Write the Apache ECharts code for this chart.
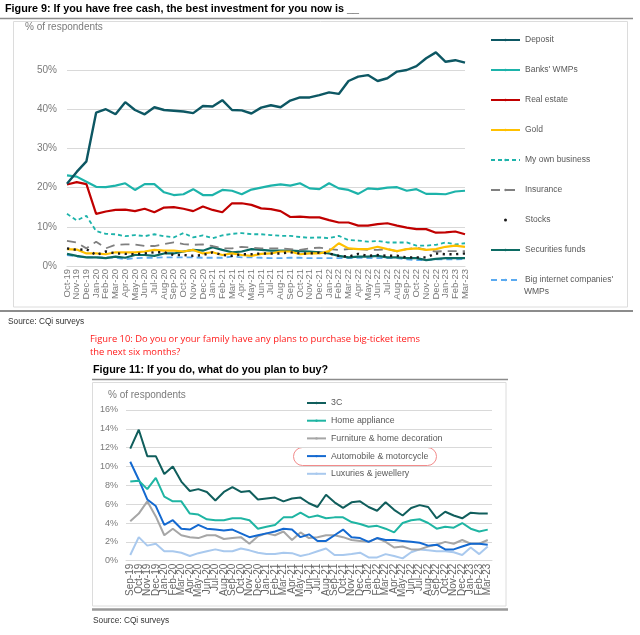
<!DOCTYPE html>
<html><head><meta charset="utf-8">
<script src="https://cdn.jsdelivr.net/npm/echarts@6/dist/echarts.min.js"></script>
<style>html,body{margin:0;padding:0;background:#fff}#c{width:640px;height:635px}</style>
</head><body><div id="c"></div>
<script>
// ---------- Figure 9 data ----------
const months1 = ['Oct-19','Nov-19','Dec-19','Jan-20','Feb-20','Mar-20','Apr-20','May-20','Jun-20','Jul-20','Aug-20','Sep-20','Oct-20','Nov-20','Dec-20','Jan-21','Feb-21','Mar-21','Apr-21','May-21','Jun-21','Jul-21','Aug-21','Sep-21','Oct-21','Nov-21','Dec-21','Jan-22','Feb-22','Mar-22','Apr-22','May-22','Jun-22','Jul-22','Aug-22','Sep-22','Oct-22','Nov-22','Dec-22','Jan-23','Feb-23','Mar-23'];
const deposit = [21.0,24.0,26.7,39.1,40.0,38.7,41.8,39.8,38.7,40.5,39.8,39.6,39.4,39.0,40.8,40.7,42.3,39.8,39.7,38.9,40.4,41.0,40.5,42.2,43.0,43.0,43.6,44.3,43.9,47.2,48.3,48.7,47.2,47.9,49.6,50.0,51.0,53.0,54.5,52.1,52.5,51.9];
const banksWMPs = [23.1,22.8,21.5,20.2,20.1,20.5,21.1,19.4,20.9,20.9,18.8,18.1,18.3,19.6,18.1,18.1,19.4,19.2,18.3,19.5,20.0,20.5,20.8,20.5,21.1,19.8,19.6,21.1,19.8,19.4,18.4,19.8,19.6,20.0,20.1,19.2,19.6,18.4,18.4,18.3,19.0,19.2];
const realEstate = [20.8,21.4,20.9,13.3,13.9,14.3,14.4,14.0,14.6,13.7,14.9,15.0,14.6,14.0,15.2,14.3,13.7,16.0,16.0,15.6,14.7,14.5,14.0,12.5,12.6,12.4,12.4,11.7,11.1,11.1,10.3,10.3,10.7,10.9,10.3,9.8,9.4,9.4,8.5,8.6,8.8,8.1];
const gold = [4.3,4.2,3.2,3.2,3.0,3.5,3.5,3.5,3.7,4.1,3.9,3.9,3.7,4.1,3.2,3.5,2.8,3.2,2.8,2.6,3.1,3.2,3.7,3.7,3.0,3.2,3.2,3.8,5.8,4.5,4.3,4.3,4.9,4.3,3.8,4.3,4.5,4.1,4.3,4.9,5.2,4.9];
const ownBusiness = [13.3,11.6,12.8,8.9,8.2,8.1,7.6,7.9,7.6,8.1,7.6,7.3,8.4,7.3,7.8,7.1,7.8,8.2,8.4,8.1,8.1,7.9,7.7,7.7,7.4,7.2,7.3,7.1,7.7,6.6,6.5,6.2,6.4,6.0,6.0,6.0,5.2,5.2,5.4,6.0,5.5,5.8];
const insurance = [6.4,6.0,4.5,6.2,4.5,5.4,5.5,5.5,5.1,5.1,5.6,6.0,5.6,5.4,5.5,5.1,4.5,4.5,4.9,4.7,4.5,4.5,4.5,4.3,4.1,4.5,4.7,4.3,4.1,4.3,4.3,4.1,4.1,4.3,3.7,4.3,4.7,4.1,3.7,3.8,3.8,3.8];
const stocks = [4.5,4.1,4.3,2.8,3.7,3.2,3.1,3.0,3.2,3.5,3.5,2.8,2.8,2.6,2.8,3.5,2.8,2.6,3.0,3.0,3.2,3.2,3.2,3.5,3.2,3.2,3.4,3.2,2.6,2.4,3.1,2.6,2.8,2.6,2.6,2.2,2.2,2.2,3.2,3.0,3.0,3.2];
const securitiesFunds = [3.1,2.6,2.2,2.2,2.0,2.4,2.1,2.8,2.8,2.6,3.2,3.2,3.7,4.1,3.9,4.8,4.1,3.5,3.7,4.3,4.1,3.9,3.9,3.9,3.8,3.7,3.5,3.2,2.6,2.2,2.4,2.4,2.6,2.2,2.2,2.0,2.0,1.5,1.8,2.0,2.0,2.0];
const bigInternetWMPs = [2.8,2.4,2.2,2.2,2.2,2.1,1.7,2.0,2.1,2.1,2.2,2.2,2.2,2.2,2.1,2.1,2.1,2.4,2.2,2.2,2.1,2.0,2.0,2.1,2.1,2.0,2.0,2.0,2.0,2.0,2.1,2.0,2.0,2.0,2.0,1.7,1.5,1.5,1.7,1.7,1.7,1.8];
const yTicks1 = ['0%','10%','20%','30%','40%','50%'];

// ---------- Figure 11 data ----------
const months2 = ['Sep-19'].concat(months1);
const threeC = [11.9,13.9,11.1,11.1,9.2,10.0,8.4,7.4,7.6,7.3,6.4,7.3,7.8,7.3,7.4,6.5,6.6,6.7,6.3,6.6,6.7,6.1,5.7,7.0,6.2,5.6,6.2,6.3,5.7,5.3,6.2,5.4,4.8,5.6,5.9,5.7,4.5,5.2,4.8,4.5,5.1,5.0,5.0];
const homeAppliance = [8.4,8.5,7.6,8.8,6.8,6.3,6.3,5.0,4.9,4.4,4.3,4.3,4.5,4.5,4.3,3.4,3.6,3.8,4.6,4.6,5.1,4.6,4.8,4.5,4.6,4.6,4.1,3.9,3.6,3.7,3.4,3.0,4.0,4.3,4.4,4.0,3.4,3.6,3.5,4.0,3.4,3.1,3.3];
const furniture = [4.2,5.0,6.3,4.7,2.7,3.4,2.7,2.5,2.4,2.7,2.7,2.3,2.4,2.5,1.8,2.6,2.9,2.7,3.1,2.2,3.0,2.4,2.5,2.7,2.7,2.5,2.2,2.1,2.0,2.4,2.0,1.4,1.5,1.2,1.2,1.5,1.7,2.0,1.8,2.2,1.8,1.8,2.2];
const automobile = [10.5,8.6,6.5,5.8,3.8,4.3,3.4,3.3,3.8,3.4,3.3,3.2,3.3,2.9,2.5,2.7,2.9,3.1,3.4,3.3,2.5,2.8,2.1,2.1,2.7,3.3,2.5,2.4,2.0,2.4,2.2,2.2,2.1,2.0,1.9,1.6,1.7,1.2,1.2,1.5,1.8,1.8,1.7];
const luxuries = [0.6,2.5,1.6,1.8,1.0,1.0,0.85,0.5,0.8,1.0,1.2,1.0,1.0,1.3,1.1,0.85,0.7,0.7,0.85,0.8,0.5,0.7,1.0,1.3,0.6,0.6,0.7,0.85,0.35,0.35,0.7,0.5,0.25,0.9,1.2,1.1,1.0,1.0,0.9,0.6,1.4,0.7,1.5];
const yTicks2 = ['0%','2%','4%','6%','8%','10%','12%','14%','16%'];

const FONT = "'Liberation Sans', Arial, sans-serif";
const NARROW = "'Liberation Sans Narrow', 'Arial Narrow', 'Liberation Sans', sans-serif";
const GRID = '#d9d9d9';
const LBL = '#7a7a7a';

function ln(name, data, color, width, type, gi, z) {
  return {
    name, type: 'line', data, xAxisIndex: gi, yAxisIndex: gi,
    symbol: 'none', smooth: false, z: z || 2,
    lineStyle: { color, width, type: type || 'solid', cap: 'butt' },
    itemStyle: { color }
  };
}

const chart = echarts.init(document.getElementById('c'), null, { renderer: 'canvas' });
const option = {
  animation: false,
  backgroundColor: '#fff',
  textStyle: { fontFamily: FONT },
  grid: [
    { left: 67, top: 30.8, width: 398, height: 235.2 },
    { left: 126, top: 410, width: 366, height: 150.7 }
  ],
  xAxis: [
    { gridIndex: 0, type: 'category', data: months1, boundaryGap: false,
      axisLine: { show: true, lineStyle: { color: GRID } }, axisTick: { show: false },
      axisLabel: { rotate: 90, interval: 0, fontSize: 9.5, color: LBL, margin: 3, fontFamily: FONT } },
    { gridIndex: 1, type: 'category', data: months2, boundaryGap: true,
      axisLine: { show: true, lineStyle: { color: GRID } }, axisTick: { show: false },
      axisLabel: { rotate: 90, interval: 0, fontSize: 10, color: '#666', margin: 3, fontFamily: FONT } }
  ],
  yAxis: [
    { gridIndex: 0, type: 'value', min: 0, max: 60, interval: 10,
      axisLine: { show: false }, axisTick: { show: false },
      splitLine: { show: true, showMaxLine: false, lineStyle: { color: GRID, width: 1 } },
      axisLabel: { showMaxLabel: false, fontSize: 10, color: LBL, margin: 10, fontFamily: FONT,
        formatter: v => yTicks1[Math.round(v / 10)] || '' } },
    { gridIndex: 1, type: 'value', min: 0, max: 16, interval: 2,
      axisLine: { show: false }, axisTick: { show: false },
      splitLine: { show: true, lineStyle: { color: GRID, width: 1 } },
      axisLabel: { fontSize: 9, color: LBL, margin: 8, fontFamily: FONT,
        formatter: v => yTicks2[Math.round(v / 2)] || '' } }
  ],
  legend: [
    { orient: 'vertical', left: 485, top: 29, itemWidth: 29, itemHeight: 3, itemGap: 18,
      textStyle: { fontSize: 8.5, color: '#595959', lineHeight: 12, fontFamily: FONT },
      selectedMode: false,
      data: ['Deposit', "Banks' WMPs", 'Real estate', 'Gold', 'My own business', 'Insurance',
        { name: 'Stocks', icon: 'circle' }, 'Securities funds', "Big internet companies' WMPs"],
      formatter: n => n === "Big internet companies' WMPs" ? "Big internet companies'" : n },
    { orient: 'vertical', left: 301, top: 392, itemWidth: 19, itemHeight: 3, itemGap: 5.7,
      textStyle: { fontSize: 8.8, color: '#595959', lineHeight: 12, fontFamily: FONT },
      selectedMode: false,
      data: ['3C', 'Home appliance', 'Furniture & home decoration', 'Automobile & motorcycle', 'Luxuries & jewellery'] }
  ],
  series: [
    ln('Big internet companies\' WMPs', bigInternetWMPs, '#5aaaf0', 1.8, [6, 4], 0, 2),
    ln('Securities funds', securitiesFunds, '#0c6b63', 2.2, 'solid', 0, 3),
    ln('Stocks', stocks, '#1a1a1a', 2.4, [2.2, 4.5], 0, 4),
    ln('Insurance', insurance, '#808080', 1.8, [9, 6], 0, 3),
    ln('My own business', ownBusiness, '#1db3aa', 1.8, [4, 3], 0, 3),
    ln('Gold', gold, '#ffc000', 2.2, 'solid', 0, 3),
    ln('Real estate', realEstate, '#c00000', 2.2, 'solid', 0, 4),
    ln("Banks' WMPs", banksWMPs, '#1db3aa', 2.2, 'solid', 0, 4),
    ln('Deposit', deposit, '#0d5763', 2.4, 'solid', 0, 5),
    ln('Luxuries & jewellery', luxuries, '#a9c9ee', 2, 'solid', 1, 2),
    ln('Furniture & home decoration', furniture, '#a6a6a6', 2, 'solid', 1, 3),
    ln('Automobile & motorcycle', automobile, '#1469d0', 2, 'solid', 1, 4),
    ln('Home appliance', homeAppliance, '#1fb5a3', 2, 'solid', 1, 4),
    ln('3C', threeC, '#105e5c', 2, 'solid', 1, 5)
  ],
  graphic: [
    { type: 'text', left: 5, top: 4, style: { text: 'Figure 9: If you have free cash, the best investment for you now is __', font: 'bold 10.8px ' + NARROW, fill: '#000' } },
    { type: 'line', shape: { x1: 0, y1: 18.5, x2: 633, y2: 18.5 }, style: { stroke: '#8c8c8c', lineWidth: 1.5 } },
    { type: 'rect', shape: { x: 13.5, y: 21.5, width: 614, height: 285.5 }, style: { fill: 'none', stroke: '#dcdcdc', lineWidth: 1 } },
    { type: 'text', left: 25, top: 22, style: { text: '% of respondents', font: '10px ' + FONT, fill: '#7a7a7a' } },
    { type: 'text', left: 524, top: 287, style: { text: 'WMPs', font: '8.5px ' + FONT, fill: '#595959' } },
    { type: 'line', shape: { x1: 0, y1: 311, x2: 633, y2: 311 }, style: { stroke: '#8c8c8c', lineWidth: 2 } },
    { type: 'text', left: 8, top: 318, style: { text: 'Source: CQi surveys', font: '8.3px ' + FONT, fill: '#333' } },
    { type: 'text', left: 90, top: 335, style: { text: 'Figure 10: Do you or your family have any plans to purchase big-ticket items', font: "9.4px 'Open Sans', sans-serif", fill: '#ff1a1a' } },
    { type: 'text', left: 90, top: 348, style: { text: 'the next six months?', font: "9.4px 'Open Sans', sans-serif", fill: '#ff1a1a' } },
    { type: 'text', left: 93, top: 365, style: { text: 'Figure 11: If you do, what do you plan to buy?', font: 'bold 10.8px ' + NARROW, fill: '#000' } },
    { type: 'line', shape: { x1: 92, y1: 379.5, x2: 508, y2: 379.5 }, style: { stroke: '#8c8c8c', lineWidth: 1.5 } },
    { type: 'rect', shape: { x: 92.5, y: 382.5, width: 413.5, height: 223.5 }, style: { fill: 'none', stroke: '#dcdcdc', lineWidth: 1 } },
    { type: 'text', left: 108, top: 390, style: { text: '% of respondents', font: '10px ' + FONT, fill: '#7a7a7a' } },
    { type: 'rect', shape: { x: 293.5, y: 447.5, width: 143, height: 18, r: 9 }, style: { fill: 'none', stroke: '#f28b8b', lineWidth: 1 } },
    { type: 'line', shape: { x1: 92, y1: 609.5, x2: 508, y2: 609.5 }, style: { stroke: '#999', lineWidth: 2.5 } },
    { type: 'text', left: 93, top: 617, style: { text: 'Source: CQi surveys', font: '8.3px ' + FONT, fill: '#333' } }
  ]
};
chart.setOption(option);
</script>
</body></html>
